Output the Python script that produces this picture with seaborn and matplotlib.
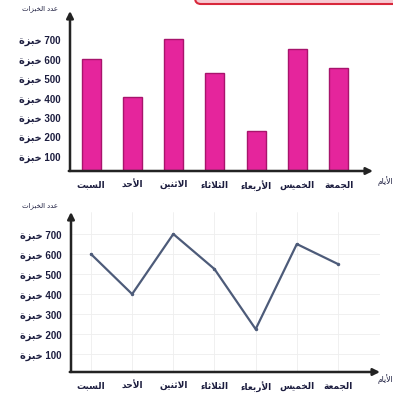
import matplotlib
matplotlib.use("Agg")
import matplotlib.pyplot as plt
import pandas as pd
import seaborn as sns
from matplotlib.patches import FancyBboxPatch

# ---------------- data ----------------
days = ["السبت", "الأحد", "الاثنين", "الثلاثاء", "الأربعاء", "الخميس", "الجمعة"]
loaves = [600, 400, 700, 525, 225, 650, 550]
y_ticks = [100, 200, 300, 400, 500, 600, 700]
unit = "خبزة"
x_title = "الأيام"
y_title = "عدد الخبزات"

# ------------- Arabic shaping (presentation forms, visual order) -------------
FORMS = {
    'ا': ('\uFE8D', '\uFE8E', None, None),
    'أ': ('\uFE83', '\uFE84', None, None),
    'ب': ('\uFE8F', '\uFE90', '\uFE91', '\uFE92'),
    'ة': ('\uFE93', '\uFE94', None, None),
    'ت': ('\uFE95', '\uFE96', '\uFE97', '\uFE98'),
    'ث': ('\uFE99', '\uFE9A', '\uFE9B', '\uFE9C'),
    'ج': ('\uFE9D', '\uFE9E', '\uFE9F', '\uFEA0'),
    'ح': ('\uFEA1', '\uFEA2', '\uFEA3', '\uFEA4'),
    'خ': ('\uFEA5', '\uFEA6', '\uFEA7', '\uFEA8'),
    'د': ('\uFEA9', '\uFEAA', None, None),
    'ر': ('\uFEAD', '\uFEAE', None, None),
    'ز': ('\uFEAF', '\uFEB0', None, None),
    'س': ('\uFEB1', '\uFEB2', '\uFEB3', '\uFEB4'),
    'ع': ('\uFEC9', '\uFECA', '\uFECB', '\uFECC'),
    'ل': ('\uFEDD', '\uFEDE', '\uFEDF', '\uFEE0'),
    'م': ('\uFEE1', '\uFEE2', '\uFEE3', '\uFEE4'),
    'ن': ('\uFEE5', '\uFEE6', '\uFEE7', '\uFEE8'),
    'ي': ('\uFEF1', '\uFEF2', '\uFEF3', '\uFEF4'),
    'ء': ('\uFE80', '\uFE80', None, None),
}
LAM_ALEF = {'ا': ('\uFEFB', '\uFEFC'), 'أ': ('\uFEF7', '\uFEF8')}


def _dual(c):
    return c in FORMS and FORMS[c][2] is not None


def _joins(c):
    return c in FORMS and c != 'ء'


def shape(text):
    chars = list(text)
    n = len(chars)
    out = []
    i = 0
    while i < n:
        c = chars[i]
        prev = chars[i - 1] if i > 0 else None
        cp = prev is not None and _dual(prev) and _joins(c)
        if c == 'ل' and i + 1 < n and chars[i + 1] in LAM_ALEF:
            out.append(LAM_ALEF[chars[i + 1]][1 if cp else 0])
            i += 2
            continue
        if c not in FORMS:
            out.append(c)
            i += 1
            continue
        nxt = chars[i + 1] if i + 1 < n else None
        cn = _dual(c) and nxt is not None and _joins(nxt)
        iso, fin, ini, med = FORMS[c]
        out.append(med if (cp and cn) else fin if cp else ini if cn else iso)
        i += 1
    return ''.join(reversed(out))


# ---------------- style ----------------
sns.set_theme(style="white")
plt.rcParams['font.family'] = ['Liberation Sans', 'DejaVu Sans']

TXT = '#1c1d3f'
AX = '#232323'
BAR = '#e5259c'
BAR_EDGE = '#a8146c'
LINE = '#4d5b79'

df = pd.DataFrame({'day': days, 'loaves': loaves})

W, H = 393, 402
fig = plt.figure(figsize=(W / 100, H / 100), dpi=100)


def fx(px):
    return px / W


def fy(py):
    return 1 - py / H


def decorate(ax, title_y_px, xlabel_y_px):
    for s in ax.spines.values():
        s.set_visible(False)
    ax.annotate('', xy=(0, 1), xytext=(0, 0), xycoords='axes fraction',
                arrowprops=dict(arrowstyle='-|>', color=AX, lw=1.8,
                                mutation_scale=10, shrinkA=0, shrinkB=0))
    ax.annotate('', xy=(1, 0), xytext=(-0.004, 0), xycoords='axes fraction',
                arrowprops=dict(arrowstyle='-|>', color=AX, lw=1.8,
                                mutation_scale=10, shrinkA=0, shrinkB=0))
    ax.set_yticks(y_ticks)
    ax.set_yticklabels([f"{shape(unit)} {v}" for v in y_ticks],
                       fontsize=7, fontweight='bold', color=TXT)
    ax.set_xticks(range(len(days)))
    ax.set_xticklabels([shape(d) for d in days], fontsize=6.5,
                       fontweight='bold', color=TXT)
    ax.tick_params(axis='y', length=0, pad=7)
    ax.tick_params(axis='x', length=0, pad=6)
    ax.set_xlabel('')
    ax.set_ylabel('')
    fig.text(fx(40), fy(title_y_px), shape(y_title), fontsize=5,
             color=TXT, ha='center', va='center')
    fig.text(fx(385), fy(xlabel_y_px), shape(x_title), fontsize=5.5,
             color=TXT, ha='center', va='center')


# ---------------- top: bar chart ----------------
ax1 = fig.add_axes([fx(70), fy(172), fx(373) - fx(70), fy(12) - fy(172)])
sns.barplot(data=df, x='day', y='loaves', color=BAR, saturation=1,
            width=0.46, edgecolor=BAR_EDGE, linewidth=1.0, ax=ax1)
ax1.set_xlim(-0.51, 6.83)
ax1.set_ylim(20, 845)
decorate(ax1, 9, 181)

# ---------------- bottom: line chart ----------------
ax2 = fig.add_axes([fx(71), fy(373), fx(380) - fx(71), fy(213) - fy(373)])
sns.lineplot(data=df, x='day', y='loaves', sort=False, color=LINE,
             linewidth=1.6, marker='o', markersize=2.5, markeredgewidth=0,
             ax=ax2)
ax2.set_xlim(-0.485, 7.02)
ax2.set_ylim(11, 810)
ax2.grid(True, color='#eeeeee', lw=0.6)
ax2.set_axisbelow(True)
decorate(ax2, 206, 379)

# decorative fragment of the page frame at the top right
fig.patches.append(FancyBboxPatch((fx(195), fy(5)), fx(420) - fx(195),
                                  fy(-20) - fy(5),
                                  boxstyle='round,pad=0,rounding_size=0.015',
                                  transform=fig.transFigure, facecolor='#f7c9d2',
                                  edgecolor='#d8283b', lw=1.5, zorder=0))

fig.savefig('out.png', dpi=100)
